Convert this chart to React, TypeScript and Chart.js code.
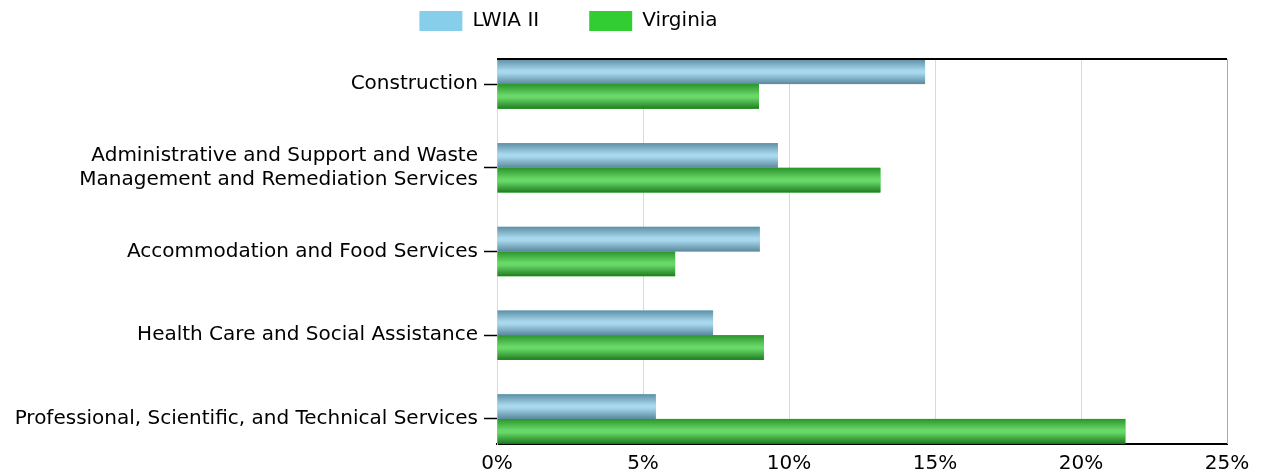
import React, { useEffect, useRef } from 'react';
import { Chart, registerables } from 'chart.js';
Chart.register(...registerables);

const categories: string[][] = [
  ['Construction'],
  ['Administrative and Support and Waste', 'Management and Remediation Services'],
  ['Accommodation and Food Services'],
  ['Health Care and Social Assistance'],
  ['Professional, Scientific, and Technical Services'],
];
const lwiaValues = [14.66, 9.62, 9.0, 7.4, 5.44];
const virginiaValues = [8.97, 13.13, 6.1, 9.14, 21.52];
const seriesNames = ['LWIA II', 'Virginia'];
const xTickStep = 5;
const xMax = 25;

const FONT = 'DejaVu Sans';
const LEGEND_PAD = 50;

const gradientStops: Record<number, string[]> = {
  0: ['#5f8fa5', '#a8d8ee', '#a8d8ee', '#5a889c'],
  1: ['#2b942b', '#68d868', '#68d868', '#1f7c1f'],
};

const gradientPlugin = {
  id: 'barGradient',
  afterDatasetsDraw(chart: any) {
    const ctx = chart.ctx;
    ctx.save();
    chart.data.datasets.forEach((_: any, di: number) => {
      const meta = chart.getDatasetMeta(di);
      meta.data.forEach((el: any) => {
        const { x, y, base, height } = el.getProps(['x', 'y', 'base', 'height'], true);
        const left = Math.min(base, x);
        const w = Math.abs(x - base);
        const top = y - height / 2;
        const g = ctx.createLinearGradient(0, top, 0, top + height);
        const s = gradientStops[di];
        g.addColorStop(0, s[0]);
        g.addColorStop(0.45, s[1]);
        g.addColorStop(0.55, s[2]);
        g.addColorStop(1, s[3]);
        ctx.fillStyle = g;
        ctx.fillRect(left, top, w, height);
      });
    });
    ctx.restore();
  },
  afterDraw(chart: any) {
    const { ctx, chartArea } = chart;
    ctx.save();
    ctx.strokeStyle = '#000';
    ctx.lineWidth = 2;
    ctx.beginPath();
    ctx.moveTo(chartArea.left, chartArea.top);
    ctx.lineTo(chartArea.right, chartArea.top);
    ctx.stroke();
    ctx.strokeStyle = '#a8a8b8';
    ctx.lineWidth = 1;
    ctx.beginPath();
    ctx.moveTo(chartArea.right + 0.5, chartArea.top);
    ctx.lineTo(chartArea.right + 0.5, chartArea.bottom);
    ctx.stroke();
    ctx.restore();
  },
};

const legendLayout = {
  id: 'legendLayout',
  beforeInit(chart: any) {
    const origFit = chart.legend.fit;
    chart.legend.fit = function () {
      origFit.bind(chart.legend)();
      this.height = 59;
    };
  },
  beforeDraw(chart: any) {
    const lg = chart.legend;
    if (!lg) return;
    lg.top = 11 - LEGEND_PAD;
    lg.bottom = 59;
    lg.left = 0;
    lg.right = 1137;
  },
};

export default function App() {
  const ref = useRef<HTMLCanvasElement>(null);
  useEffect(() => {
    document.body.style.margin = '0';
    const chart = new Chart(ref.current!, {
      type: 'bar',
      data: {
        datasets: [
          {
            label: seriesNames[0],
            data: lwiaValues.map((v, i) => ({ x: v, y: i })),
            backgroundColor: '#87CEEB',
            borderWidth: 0,
          },
          {
            label: seriesNames[1],
            data: virginiaValues.map((v, i) => ({ x: v, y: i })),
            backgroundColor: '#32CD32',
            borderWidth: 0,
          },
        ],
      },
      plugins: [gradientPlugin, legendLayout],
      options: {
        indexAxis: 'y',
        animation: false,
        responsive: true,
        maintainAspectRatio: false,
        categoryPercentage: 0.59,
        barPercentage: 1,
        layout: { padding: { top: 0, right: 36, left: 8, bottom: 0 } },
        plugins: {
          legend: {
            position: 'top',
            labels: {
              boxWidth: 43,
              boxHeight: 20,
              padding: LEGEND_PAD,
              color: '#000',
              font: { family: FONT, size: 20 },
            },
          },
          tooltip: { enabled: false },
        },
        scales: {
          x: {
            type: 'linear',
            min: 0,
            max: xMax,
            afterFit: (s: any) => {
              s.height = 32;
            },
            ticks: {
              stepSize: xTickStep,
              callback: (v: any) => v + '%',
              color: '#000',
              font: { family: FONT, size: 20 },
              padding: 8,
            },
            grid: { color: '#d6d6ec', drawTicks: false },
            border: { color: '#000', width: 2 },
          },
          y: {
            type: 'linear',
            min: -0.3,
            max: 4.3,
            reverse: true,
            offset: false,
            afterBuildTicks: (s: any) => {
              s.ticks = categories.map((_, i) => ({ value: i }));
            },
            afterFit: (s: any) => {
              s.width = 489;
            },
            ticks: {
              callback: (v: any) => categories[v],
              color: '#000',
              font: { family: FONT, size: 20, lineHeight: 1.2 },
              padding: 6,
              autoSkip: false,
            },
            grid: { drawOnChartArea: false, offset: false, tickLength: 13, color: '#000', tickWidth: 1.5 },
            border: { color: '#d8d8ec', width: 1 },
          },
        },
      },
    });
    return () => chart.destroy();
  }, []);
  return (
    <div style={{ width: 1263, height: 476, position: 'relative' }}>
      <canvas ref={ref} />
    </div>
  );
}
